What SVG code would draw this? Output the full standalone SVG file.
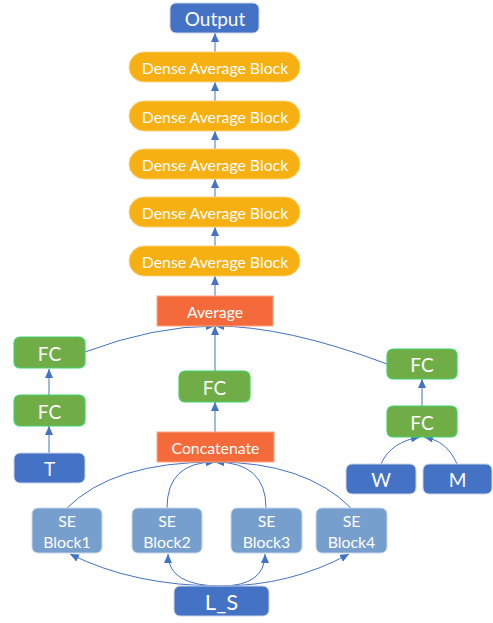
<svg xmlns="http://www.w3.org/2000/svg" width="493" height="623" viewBox="0 0 493 623">
<style>
text{font-family:Lato,"Liberation Sans",Arial,sans-serif;font-size:15.8px;fill:#fff;text-anchor:middle;dominant-baseline:central}
.big{font-size:19px}
.ls{font-size:22px}
.blue{fill:#4472C4;stroke:#C9D3E8;stroke-width:1}
.dab{fill:#F7B012;stroke:#FAD27A;stroke-width:1}
.org{fill:#F56A3A;stroke:#F9A98A;stroke-width:1}
.fc{fill:#70AD47;stroke:#3FD46A;stroke-width:1.2}
.se{fill:#779FCE;stroke:#C5D5EA;stroke-width:1}
.c{fill:none;stroke:#4472C4;stroke-width:1;marker-end:url(#ah)}
</style>
<defs>
<marker id="ah" markerWidth="10" markerHeight="8" refX="9" refY="4" orient="auto" markerUnits="userSpaceOnUse">
<path d="M0,0 L9,4 L0,8 Z" fill="#4472C4"/>
</marker>
</defs>
<rect width="493" height="623" fill="#fff"/>
<g id="connectors">
<path class="c" d="M215,52 V33"/>
<path class="c" d="M215,101 V82"/>
<path class="c" d="M215,149 V131"/>
<path class="c" d="M215,197 V179"/>
<path class="c" d="M215,246 V227"/>
<path class="c" d="M215,296 V276"/>
<path class="c" d="M215,371 V326"/>
<path class="c" d="M85,352 Q154,326 215,326"/>
<path class="c" d="M387,364 Q286,326 215,326"/>
<path class="c" d="M49,395 V369"/>
<path class="c" d="M49,453 V426"/>
<path class="c" d="M215,432 V402"/>
<path class="c" d="M422,406 V379"/>
<path class="c" d="M381,464 C388,448 402,440 420,437"/>
<path class="c" d="M457,464 C450,448 440,440 424,437"/>
<path class="c" d="M67,508 Q113,462 215,462"/>
<path class="c" d="M167,508 Q167,462 215,462"/>
<path class="c" d="M266,508 Q266,462 215,462"/>
<path class="c" d="M351,508 Q305,462 215,462"/>
<path class="c" d="M221,586 Q134,586 70,554"/>
<path class="c" d="M221,586 Q168,586 168,554"/>
<path class="c" d="M221,586 Q265,586 265,554"/>
<path class="c" d="M221,586 Q290,586 349,554"/>
</g>
<g id="output"><rect class="blue" x="170" y="3" width="89" height="30" rx="6"/><text class="big" x="215" y="18">Output</text></g>
<g id="dab1"><rect class="dab" x="129" y="52" width="171" height="30" rx="15"/><text x="215" y="67">Dense Average Block</text></g>
<g id="dab2"><rect class="dab" x="129" y="101" width="171" height="30" rx="15"/><text x="215" y="116">Dense Average Block</text></g>
<g id="dab3"><rect class="dab" x="129" y="149" width="171" height="30" rx="15"/><text x="215" y="164">Dense Average Block</text></g>
<g id="dab4"><rect class="dab" x="129" y="197" width="171" height="30" rx="15"/><text x="215" y="212">Dense Average Block</text></g>
<g id="dab5"><rect class="dab" x="129" y="246" width="171" height="30" rx="15"/><text x="215" y="261">Dense Average Block</text></g>
<g id="average"><rect class="org" x="157" y="296" width="116" height="30"/><text x="215" y="311">Average</text></g>
<g id="fc_l1"><rect class="fc" x="14" y="337" width="71" height="31" rx="6"/><text class="big" x="49.5" y="353">FC</text></g>
<g id="fc_l2"><rect class="fc" x="14" y="395" width="71" height="31" rx="6"/><text class="big" x="49.5" y="411">FC</text></g>
<g id="t"><rect class="blue" x="14" y="453" width="71" height="30" rx="6"/><text class="big" x="49.5" y="468">T</text></g>
<g id="fc_c"><rect class="fc" x="179" y="371" width="71" height="31" rx="6"/><text class="big" x="214.5" y="387">FC</text></g>
<g id="concatenate"><rect class="org" x="157" y="432" width="117" height="30"/><text x="215.5" y="447">Concatenate</text></g>
<g id="fc_r1"><rect class="fc" x="387" y="349" width="70" height="30" rx="6"/><text class="big" x="422" y="364">FC</text></g>
<g id="fc_r2"><rect class="fc" x="387" y="406" width="70" height="31" rx="6"/><text class="big" x="422" y="422">FC</text></g>
<g id="w"><rect class="blue" x="346" y="464" width="70" height="30" rx="6"/><text class="big" x="381" y="479">W</text></g>
<g id="m"><rect class="blue" x="423" y="464" width="69" height="30" rx="6"/><text class="big" x="457.5" y="479">M</text></g>
<g id="se1"><rect class="se" x="32" y="508" width="70" height="45" rx="6"/><text x="67" y="520">SE</text><text x="67" y="541">Block1</text></g>
<g id="se2"><rect class="se" x="132" y="508" width="70" height="45" rx="6"/><text x="167" y="520">SE</text><text x="167" y="541">Block2</text></g>
<g id="se3"><rect class="se" x="231" y="508" width="71" height="45" rx="6"/><text x="266.5" y="520">SE</text><text x="266.5" y="541">Block3</text></g>
<g id="se4"><rect class="se" x="316" y="508" width="71" height="45" rx="6"/><text x="351.5" y="520">SE</text><text x="351.5" y="541">Block4</text></g>
<g id="ls"><rect class="blue" x="174" y="586" width="95" height="30" rx="6"/><text class="ls" x="221.5" y="601">L_S</text></g>
</svg>
